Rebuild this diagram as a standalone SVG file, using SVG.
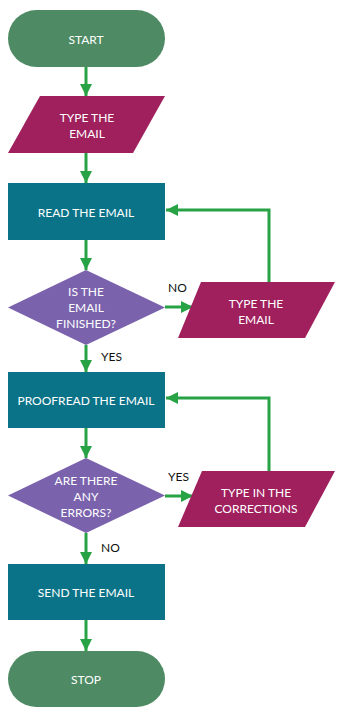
<svg xmlns="http://www.w3.org/2000/svg" width="347" height="717" viewBox="0 0 347 717">
<defs>
<marker id="ah" markerWidth="4" markerHeight="4" refX="4" refY="2" orient="auto" markerUnits="strokeWidth">
<path d="M0,0 L4,2 L0,4 Z" fill="#27a244"/>
</marker>
<style>
.term{fill:#4e8b64}
.io{fill:#a01f5d}
.proc{fill:#0b7388}
.dec{fill:#7a62ad}
.t{font-family:Lato,"Open Sans",sans-serif;font-size:12px;fill:#fff;text-anchor:middle;dominant-baseline:central}
.lbl{font-family:Lato,"Open Sans",sans-serif;font-size:12px;fill:#111;dominant-baseline:central}
.c{stroke:#27a244;stroke-width:3;fill:none;marker-end:url(#ah)}
</style>
</defs>
<rect width="347" height="717" fill="#fff"/>
<g id="connectors">
<path class="c" d="M86,67 V96"/>
<path class="c" d="M86,153 V183"/>
<path class="c" d="M86,240 V270"/>
<path class="c" d="M165,307 H193"/>
<path class="c" d="M269,282 V210 H166"/>
<path class="c" d="M86,345 V372"/>
<path class="c" d="M86,428 V458"/>
<path class="c" d="M165,496 H193"/>
<path class="c" d="M269,471 V398 H166"/>
<path class="c" d="M86,533 V564"/>
<path class="c" d="M86,620 V651"/>
</g>
<g id="start"><rect class="term" x="8" y="10" width="157" height="57" rx="28.5"/><text class="t" x="86" y="39">START</text></g>
<g id="type1"><polygon class="io" points="40,96 165,96 133,153 8,153"/><text class="t" x="87" y="117">TYPE THE</text><text class="t" x="87" y="133">EMAIL</text></g>
<g id="read"><rect class="proc" x="8" y="183" width="157" height="57"/><text class="t" x="86" y="212">READ THE EMAIL</text></g>
<g id="finished"><polygon class="dec" points="86,270 165,307.5 86,345 8,307.5"/><text class="t" x="86" y="291">IS THE</text><text class="t" x="86" y="307">EMAIL</text><text class="t" x="86" y="323">FINISHED?</text></g>
<g id="type2"><polygon class="io" points="201,282 335,282 305,338 178,338"/><text class="t" x="256" y="303">TYPE THE</text><text class="t" x="256" y="319">EMAIL</text></g>
<g id="proofread"><rect class="proc" x="8" y="372" width="157" height="56"/><text class="t" x="86" y="400">PROOFREAD THE EMAIL</text></g>
<g id="errors"><polygon class="dec" points="86,458 165,495.5 86,533 8,495.5"/><text class="t" x="86" y="480">ARE THERE</text><text class="t" x="86" y="496">ANY</text><text class="t" x="86" y="512">ERRORS?</text></g>
<g id="type3"><polygon class="io" points="202,471 335,471 305,527 178,527"/><text class="t" x="256" y="492">TYPE IN THE</text><text class="t" x="256" y="508">CORRECTIONS</text></g>
<g id="send"><rect class="proc" x="8" y="564" width="157" height="56"/><text class="t" x="86" y="592">SEND THE EMAIL</text></g>
<g id="stop"><rect class="term" x="8" y="651" width="157" height="56" rx="28"/><text class="t" x="86" y="679">STOP</text></g>
<g id="labels">
<text class="lbl" x="168" y="287">NO</text>
<text class="lbl" x="101" y="356">YES</text>
<text class="lbl" x="168" y="476">YES</text>
<text class="lbl" x="101" y="547">NO</text>
</g>
</svg>
